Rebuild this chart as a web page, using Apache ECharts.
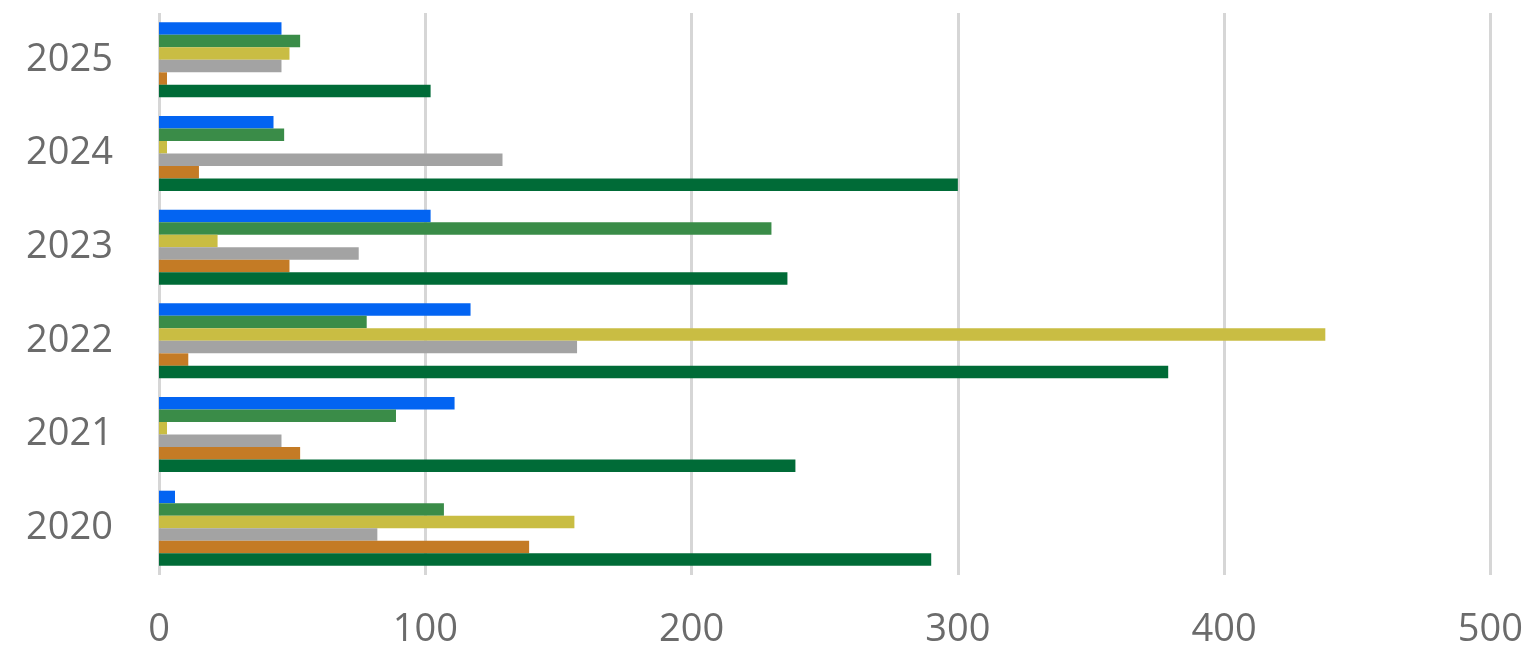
<!DOCTYPE html>
<html>
<head>
<meta charset="utf-8">
<script src="https://cdn.jsdelivr.net/npm/echarts@6/dist/echarts.min.js"></script>
<style>
  html, body { margin: 0; padding: 0; background: #fff; }
  #main { width: 1526px; height: 654px; }
</style>
</head>
<body>
<div id="main"></div>
<script>
// categories, bottom to top
var years = ['2020', '2021', '2022', '2023', '2024', '2025'];

// series values, listed top bar to bottom bar within each group
var blueVals = [6, 111, 117, 102, 43, 46];
var greenVals = [107, 89, 78, 230, 47, 53];
var yellowVals = [156, 3, 438, 22, 3, 49];
var grayVals = [82, 46, 157, 75, 129, 46];
var orangeVals = [139, 53, 11, 49, 15, 3];
var darkGreenVals = [290, 239, 379, 236, 300, 102];

var xTicks = [0, 100, 200, 300, 400, 500];

var colors = ['#0364F2', '#3A8C48', '#C9BD43', '#A3A3A3', '#C47B25', '#006B37'];
var seriesData = [blueVals, greenVals, yellowVals, grayVals, orangeVals, darkGreenVals];

var chart = echarts.init(document.getElementById('main'));
var option = {
  animation: false,
  grid: { left: 159, right: 30, top: 13, bottom: 79, containLabel: false },
  xAxis: {
    type: 'value',
    min: xTicks[0],
    max: xTicks[xTicks.length - 1],
    interval: 100,
    axisLine: { show: false },
    axisTick: { show: false },
    splitLine: { show: true, lineStyle: { color: '#d6d6d6', width: 3 } },
    axisLabel: {
      color: '#6b6b6b',
      fontSize: 38,
      fontFamily: 'Open Sans',
      margin: 36
    }
  },
  yAxis: {
    type: 'category',
    data: years,
    axisLine: { show: false },
    axisTick: { show: false },
    axisLabel: {
      color: '#6b6b6b',
      fontSize: 38,
      fontFamily: 'Open Sans',
      margin: 46
    }
  },
  series: seriesData.map(function (d, i) {
    return {
      type: 'bar',
      data: d,
      itemStyle: { color: colors[i] },
      barGap: '0%',
      barCategoryGap: '20%'
    };
  })
};
chart.setOption(option);
</script>
</body>
</html>
